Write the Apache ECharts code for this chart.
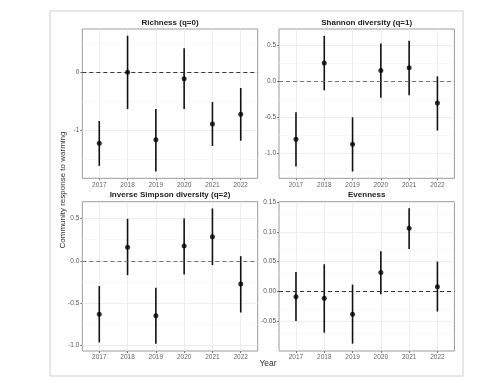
<!DOCTYPE html>
<html>
<head>
<meta charset="utf-8">
<script src="https://cdn.jsdelivr.net/npm/echarts@6/dist/echarts.min.js"></script>
<style>
html,body{margin:0;padding:0;background:#fff;}
#chart{width:500px;height:392px;}
</style>
</head>
<body>
<div id="chart"></div>
<script>
// ---- data ----
const years = [2017, 2018, 2019, 2020, 2021, 2022];

const panelTitles = ['Richness (q=0)', 'Shannon diversity (q=1)', 'Inverse Simpson diversity (q=2)', 'Evenness'];

const richnessEst = [-1.23, 0.0, -1.17, -0.11, -0.896, -0.728];
const richnessLo  = [-1.62, -0.636, -1.72, -0.636, -1.277, -1.185];
const richnessHi  = [-0.844, 0.634, -0.636, 0.416, -0.515, -0.272];

const shannonEst = [-0.803, 0.248, -0.872, 0.147, 0.183, -0.303];
const shannonLo  = [-1.179, -0.128, -1.248, -0.229, -0.197, -0.683];
const shannonHi  = [-0.431, 0.624, -0.5, 0.518, 0.555, 0.064];

const invSimpEst = [-0.632, 0.162, -0.651, 0.174, 0.284, -0.276];
const invSimpLo  = [-0.967, -0.17, -0.983, -0.162, -0.051, -0.612];
const invSimpHi  = [-0.30, 0.497, -0.32, 0.501, 0.62, 0.055];

const evenEst = [-0.009, -0.0118, -0.0387, 0.0314, 0.1059, 0.0078];
const evenLo  = [-0.050, -0.0695, -0.088, -0.005, 0.0711, -0.034];
const evenHi  = [0.0325, 0.0454, 0.0112, 0.0672, 0.1395, 0.0499];

const richnessTicks = [-1, 0];
const shannonTicks = [-1.0, -0.5, 0.0, 0.5];
const invSimpTicks = [-1.0, -0.5, 0.0, 0.5];
const evenTicks = [-0.05, 0.00, 0.05, 0.10, 0.15];

const richnessMinor = [-1.5, -0.5, 0.5];
const shannonMinor = [-1.25, -0.75, -0.25, 0.25];
const invSimpMinor = [-0.75, -0.25, 0.25];
const evenMinor = [-0.075, -0.025, 0.025, 0.075, 0.125];

// ---- layout ----
const panels = [
  {est: richnessEst, lo: richnessLo, hi: richnessHi, ticks: richnessTicks, minor: richnessMinor, dec: 0, min: -1.836, max: 0.750, left: 82.3, top: 29, zeroColor: '#222'},
  {est: shannonEst, lo: shannonLo, hi: shannonHi, ticks: shannonTicks, minor: shannonMinor, dec: 1, min: -1.342, max: 0.718, left: 279, top: 29, zeroColor: '#666'},
  {est: invSimpEst, lo: invSimpLo, hi: invSimpHi, ticks: invSimpTicks, minor: invSimpMinor, dec: 1, min: -1.068, max: 0.700, left: 82.3, top: 201.7, zeroColor: '#666'},
  {est: evenEst, lo: evenLo, hi: evenHi, ticks: evenTicks, minor: evenMinor, dec: 2, min: -0.1003, max: 0.1505, left: 279, top: 201.7, zeroColor: '#222'}
];
const W = 175.4, H = 149.3;
const FONT = 'Liberation Sans, Arial, sans-serif';

const grids = [], xAxes = [], yAxes = [], series = [], titles = [];
panels.forEach((p, i) => {
  grids.push({left: p.left, top: p.top, width: W, height: H, show: true, borderColor: '#9a9a9a', borderWidth: 1, backgroundColor: '#fff'});
  titles.push({text: panelTitles[i], left: p.left + W / 2, top: p.top - 10.5, textAlign: 'center', padding: 0,
    textStyle: {fontSize: 8, fontWeight: 'bold', color: '#222', fontFamily: FONT}});
  xAxes.push({type: 'value', gridIndex: i, min: 2016.4, max: 2022.6,
    axisLine: {show: false, onZero: false},
    axisTick: {show: true, length: 2, lineStyle: {color: '#555', width: 0.8}, customValues: years},
    axisLabel: {customValues: years, fontSize: 6.5, color: '#666', margin: 3, formatter: v => String(Math.round(v)),
      fontFamily: FONT},
    splitLine: {show: false}});
  yAxes.push({type: 'value', gridIndex: i, min: p.min, max: p.max,
    axisLine: {show: false},
    axisTick: {show: true, length: 2, lineStyle: {color: '#555', width: 0.8}, customValues: p.ticks},
    axisLabel: {customValues: p.ticks, fontSize: 6.5, color: '#555', margin: 3,
      formatter: v => (Math.abs(v) < 1e-9 ? 0 : v).toFixed(p.dec), fontFamily: FONT},
    splitLine: {show: false}});

  const gridLines = [];
  p.minor.forEach(v => gridLines.push({yAxis: v, lineStyle: {color: '#f4f4f4', width: 0.6, type: 'solid'}}));
  p.ticks.forEach(v => gridLines.push({yAxis: v, lineStyle: {color: '#ebebeb', width: 0.9, type: 'solid'}}));
  years.forEach(v => gridLines.push({xAxis: v, lineStyle: {color: '#ebebeb', width: 0.9, type: 'solid'}}));

  const ebData = years.map((y, k) => [y, p.lo[k], p.hi[k]]);
  series.push({
    type: 'custom', xAxisIndex: i, yAxisIndex: i, z: 3, silent: true,
    data: ebData,
    renderItem: function (params, api) {
      const a = api.coord([api.value(0), api.value(1)]);
      const b = api.coord([api.value(0), api.value(2)]);
      return {type: 'line', shape: {x1: a[0], y1: a[1], x2: b[0], y2: b[1]},
        style: {stroke: '#111', lineWidth: 1.6}};
    },
    markLine: {silent: true, symbol: 'none', z: 1, label: {show: false}, animation: false, data: gridLines}
  });
  series.push({
    type: 'scatter', xAxisIndex: i, yAxisIndex: i, z: 5, silent: true,
    symbol: 'circle', symbolSize: 5, itemStyle: {color: '#000'},
    data: years.map((y, k) => [y, p.est[k]]),
    markLine: {silent: true, symbol: 'none', z: 4, label: {show: false}, animation: false,
      data: [{yAxis: 0, lineStyle: {color: p.zeroColor, width: 0.9, type: [4, 3]}}]}
  });
});

const chart = echarts.init(document.getElementById('chart'), null, {renderer: 'canvas'});
chart.setOption({
  animation: false,
  backgroundColor: '#fff',
  title: titles,
  grid: grids,
  xAxis: xAxes,
  yAxis: yAxes,
  series: series,
  graphic: [
    {type: 'rect', shape: {x: 50, y: 11, width: 413, height: 365}, style: {fill: 'none', stroke: '#cfcfcf', lineWidth: 1}, z: -10},
    {type: 'text', x: 63, y: 190, rotation: Math.PI / 2,
      style: {text: 'Community response to warming', fontSize: 8, fill: '#333', align: 'center', verticalAlign: 'middle',
        fontFamily: FONT}},
    {type: 'text', x: 268, y: 364,
      style: {text: 'Year', fontSize: 8.5, fill: '#333', align: 'center', verticalAlign: 'middle',
        fontFamily: FONT}}
  ]
});
</script>
</body>
</html>
